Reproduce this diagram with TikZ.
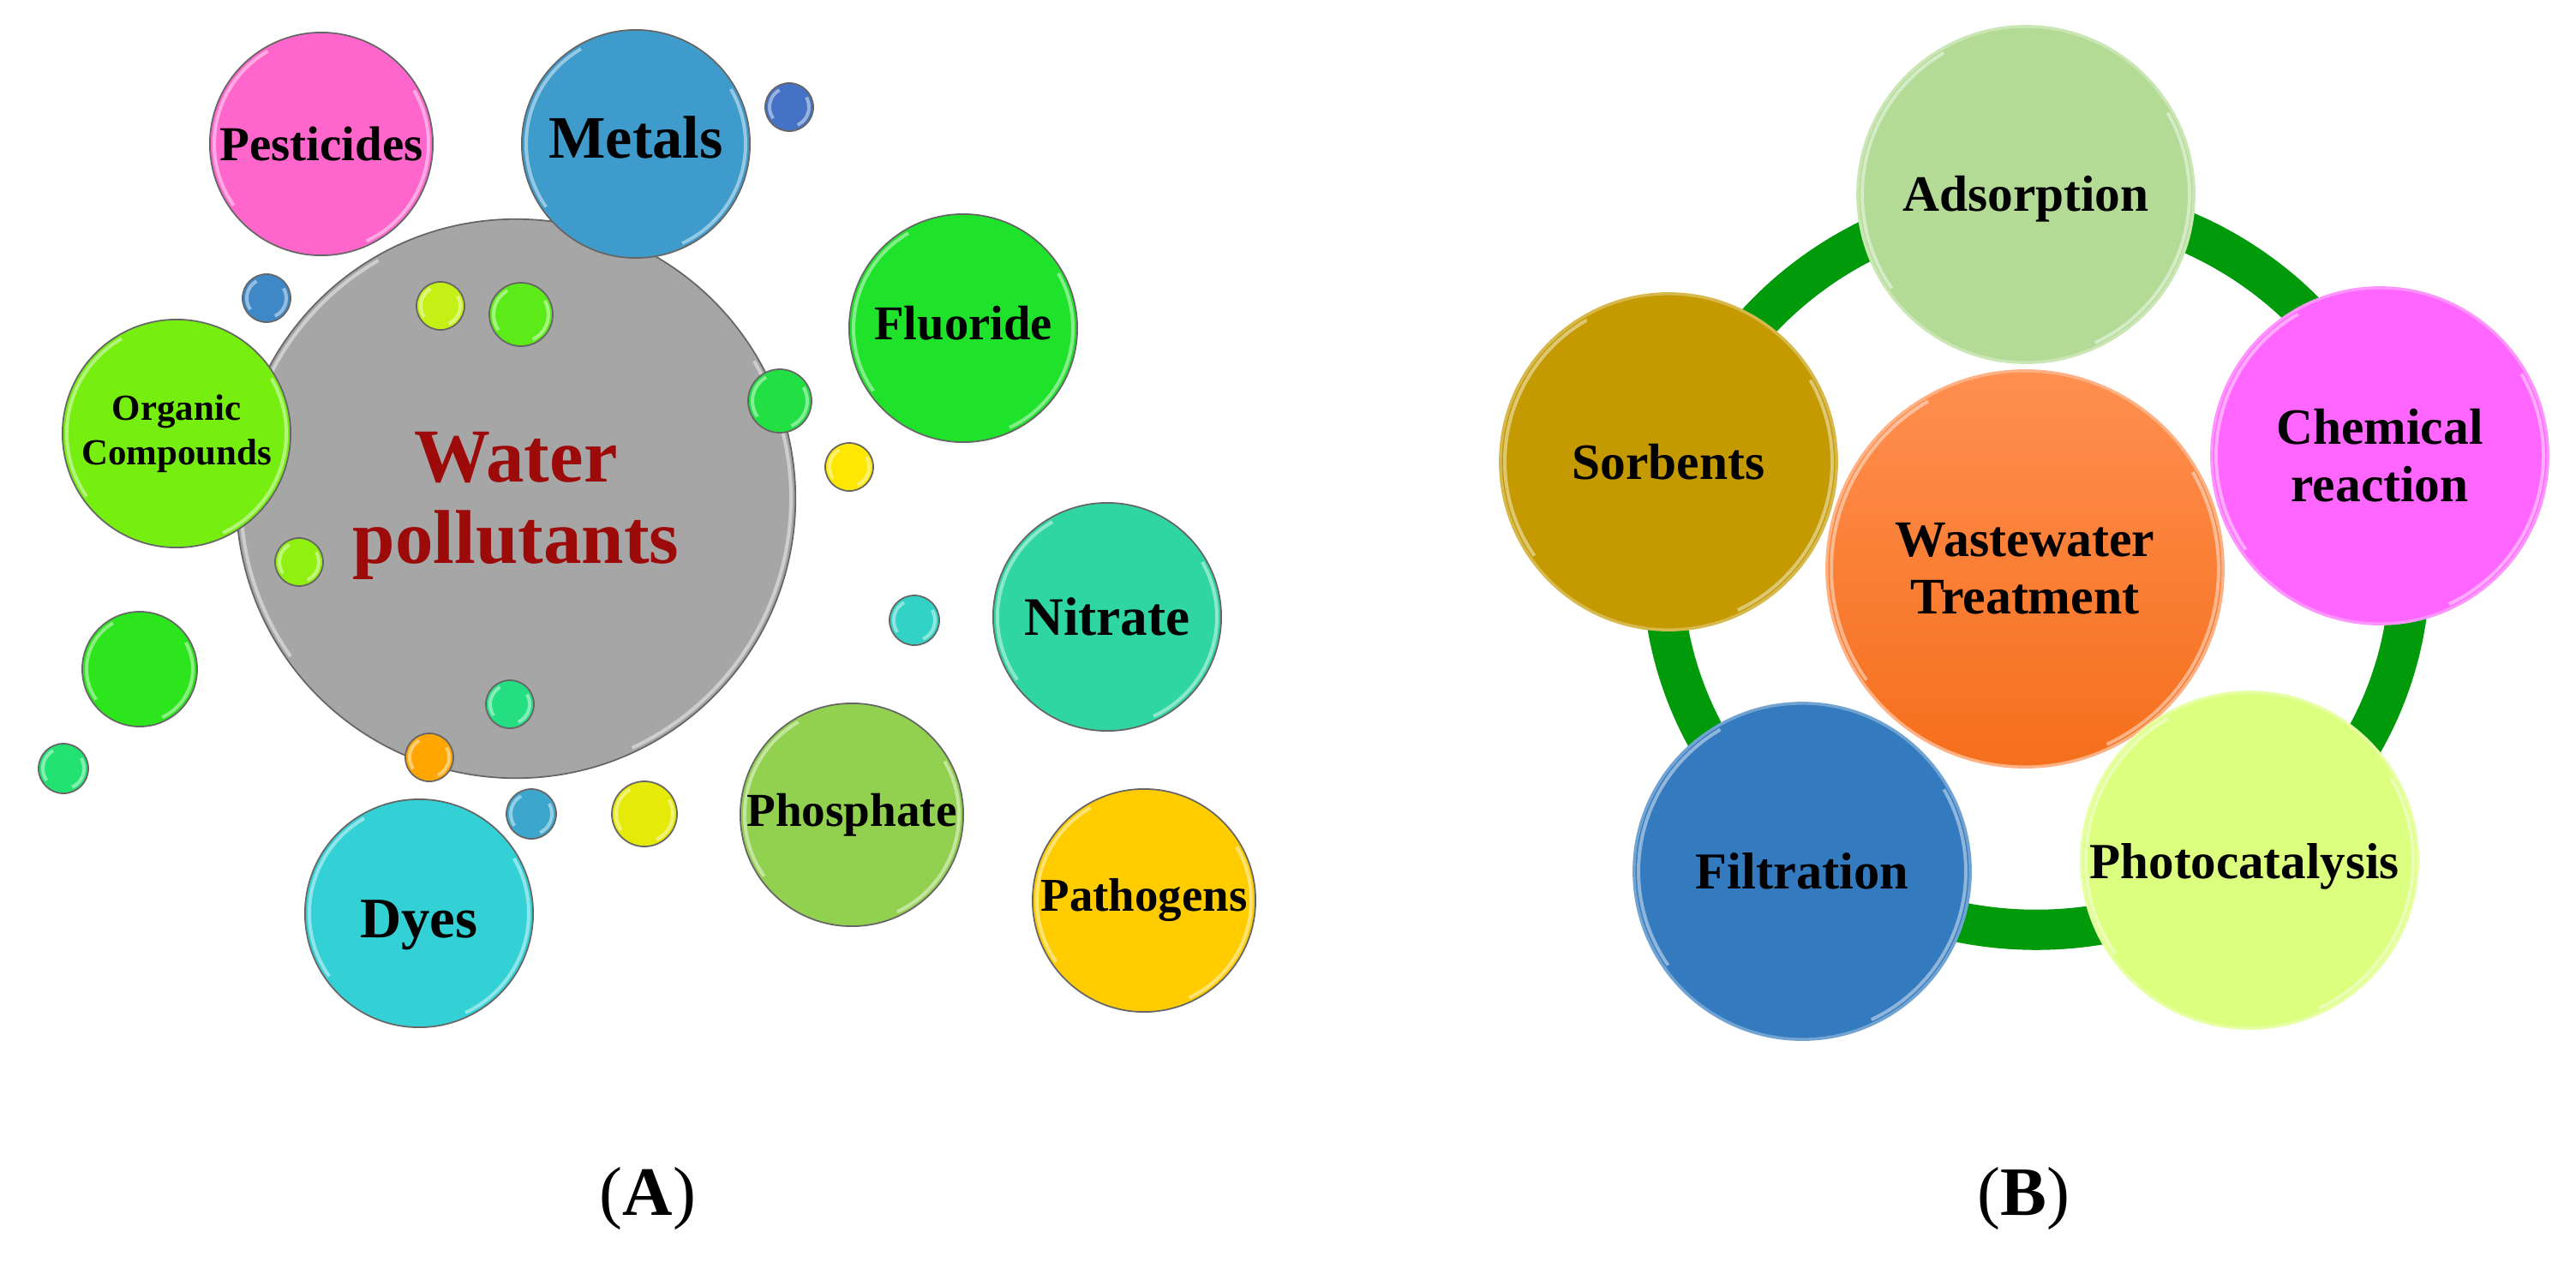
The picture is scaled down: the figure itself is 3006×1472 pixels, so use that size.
\documentclass[tikz,border=0pt]{standalone}
\usepackage{fontspec}
\setmainfont{Liberation Serif}
\definecolor{colPest}{HTML}{FF66CC}
\definecolor{colMetal}{HTML}{3E9BCB}
\definecolor{colFluor}{HTML}{1FE22B}
\definecolor{colOrg}{HTML}{76EE10}
\definecolor{colBig}{HTML}{A6A6A6}
\definecolor{colNitr}{HTML}{30D6A2}
\definecolor{colPhos}{HTML}{92D050}
\definecolor{colPath}{HTML}{FFCC00}
\definecolor{colDye}{HTML}{33D1D6}
\definecolor{colGreen}{HTML}{2CE51C}
\definecolor{colAds}{HTML}{B3DB96}
\definecolor{colChem}{HTML}{FF66FF}
\definecolor{colPhoto}{HTML}{DDFF7F}
\definecolor{colFilt}{HTML}{337ABF}
\definecolor{colSorb}{HTML}{C49A00}
\definecolor{colRing}{HTML}{009A0A}
\definecolor{colRed}{HTML}{9C0A0A}
\definecolor{colTreatTop}{HTML}{FF8F50}
\definecolor{colTreatBot}{HTML}{F56F1C}
\definecolor{colDotA}{HTML}{4472C4}
\definecolor{colDotB}{HTML}{3F88C8}
\definecolor{colDotC}{HTML}{C4F015}
\definecolor{colDotD}{HTML}{90F010}
\newcommand{\fs}[2]{\fontsize{#1}{#2}\selectfont\bfseries}
\tikzset{
  bubble/.style 2 args={circle,draw=gray!80!black,line width=0.5pt,fill=#2,minimum size={#1*0.02cm},inner sep=0pt,align=center,
    path picture={\draw[white,opacity=.45,line width=0.04cm]
      ([shift={(-65:{(#1-5)*0.01cm})}]path picture bounding box.center) arc[start angle=-65,end angle=30,radius={(#1-5)*0.01cm}]
      ([shift={(120:{(#1-5)*0.01cm})}]path picture bounding box.center) arc[start angle=120,end angle=215,radius={(#1-5)*0.01cm}];}},
  wheel/.style 2 args={bubble={#1}{#2},draw=#2!70!white,line width=1pt}
}
\begin{document}
\begin{tikzpicture}[x=0.01cm,y=-0.01cm]
      \useasboundingbox (0,0) rectangle (3006,1472);
      % panel A
      \node[bubble={326}{colBig},font=\fs{25.3}{27},text=colRed] (big) at (602,582) {\rule{0pt}{21.1pt}Water\\pollutants};
      \node[bubble={130}{colPest},font=\fs{16.2}{19}] (pest) at (375,168) {Pesticides};
      \node[bubble={133}{colMetal},font=\fs{20}{23},text depth=4.6pt] (metal) at (742,168) {Metals};
      \node[bubble={133}{colFluor},font=\fs{16.1}{19},text depth=3.4pt] (fluor) at (1124,383) {Fluoride};
      \node[bubble={133}{colOrg},font=\fs{12.2}{14.7}] (org) at (206,506) {Organic\\Compounds};
      \node[bubble={133}{colNitr},font=\fs{18}{21}] (nitr) at (1292,720) {Nitrate};
      \node[bubble={130}{colPhos},font=\fs{15.7}{18}] (phos) at (994,951) {Phosphate};
      \node[bubble={130}{colPath},font=\fs{15.6}{18}] (path) at (1335,1051) {Pathogens};
      \node[bubble={133}{colDye},font=\fs{19}{22},text height=20.5pt] (dye) at (489,1066) {Dyes};
      \node[bubble={67}{colGreen}] (g1) at (163,781) {};
      \node[bubble={28}{colDotA}] (s1) at (921,125) {};
      \node[bubble={28}{colDotB}] (s2) at (311,348) {};
      \node[bubble={28}{colDotC}] (s3) at (514,357) {};
      \node[bubble={37}{colOrg!70!colFluor}] (s4) at (608,367) {};
      \node[bubble={37}{colFluor!80!colNitr}] (s5) at (910,468) {};
      \node[bubble={28}{yellow!90!orange}] (s6) at (991,545) {};
      \node[bubble={28}{colDotD}] (s7) at (349,656) {};
      \node[bubble={29}{colDye!70!colNitr}] (s8) at (1067,724) {};
      \node[bubble={28}{colNitr!80!green}] (s9) at (595,822) {};
      \node[bubble={28}{orange!70!yellow}] (s10) at (501,884) {};
      \node[bubble={29}{colNitr!70!green}] (s11) at (74,897) {};
      \node[bubble={29}{colMetal!80!colDye}] (s12) at (620,950) {};
      \node[bubble={38}{yellow!90!green}] (s13) at (752,950) {};
      \node[font=\fontsize{23}{26}\selectfont] (capA) at (756,1399) {(\textbf{A})};
      % panel B
      \coordinate (hub) at (2376,660);
      \draw[colRing,line width=0.47cm] (hub) ellipse (4.36cm and 4.25cm);
      \node[wheel={231}{colTreatTop},top color=colTreatTop,bottom color=colTreatBot,font=\fs{17}{19}] (treat) at (2363,664) {Wastewater\\Treatment};
      \node[wheel={196}{colAds},font=\fs{16.9}{19},text height=14.8pt] (ads) at (2364,227) {Adsorption};
      \node[wheel={196}{colChem},font=\fs{16.9}{19}] (chem) at (2777,532) {Chemical\\reaction};
      \node[wheel={196}{colPhoto},font=\fs{16.8}{20},text height=15.9pt] (photo) at (2625,1004) {Photocatalysis\hspace{0.12cm}};
      \node[wheel={196}{colFilt},font=\fs{17.2}{20}] (filt) at (2103,1017) {Filtration};
      \node[wheel={196}{colSorb},font=\fs{16.9}{19}] (sorb) at (1947,539) {Sorbents};
      \node[font=\fontsize{23}{26}\selectfont] (capB) at (2361,1399) {(\textbf{B})};
\end{tikzpicture}
\end{document}
